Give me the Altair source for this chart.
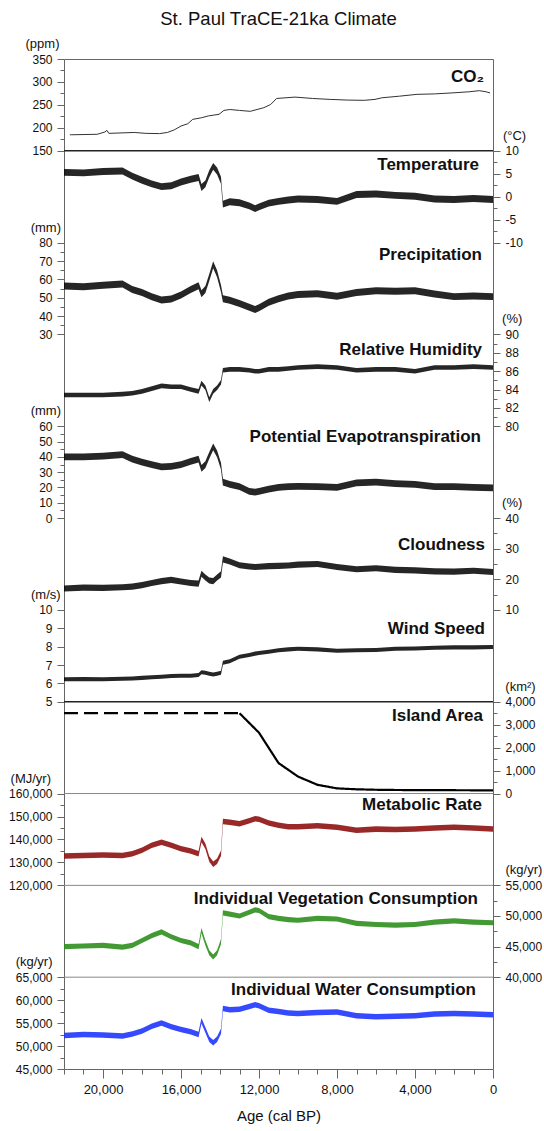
import altair as alt
import pandas as pd

# ---------------------------------------------------------------- data
# Sample ages (cal BP) shared by the TraCE-21ka climate / energetics series
AGE = [22000, 21000, 20000, 19000, 18500, 18000, 17500, 17000, 16500, 16000,
       15500, 15100, 14950, 14750, 14550, 14350, 14150, 13950, 13850, 13500,
       13000, 12500, 12200, 12000, 11500, 11000, 10500, 10000, 9000, 8000,
       7000, 6000, 5000, 4000, 3000, 2000, 1000, 0]

TEMPERATURE = [5.3, 5.2, 5.5, 5.6, 4.5, 3.6, 2.8, 2.2, 2.4, 3.2,
               3.8, 4.2, 2.0, 2.8, 5.0, 6.6, 5.6, 3.6, -1.6, -1.1,
               -1.3, -2.0, -2.6, -2.2, -1.4, -1.0, -0.7, -0.5, -0.6, -1.0,
               0.5, 0.6, 0.3, 0.1, -0.5, -0.6, -0.4, -0.6]
PRECIPITATION = [56.4, 56.0, 56.8, 57.5, 54.5, 52.8, 50.5, 48.8, 49.3, 51.5,
                 54.5, 56.5, 52.2, 54.5, 61.0, 68.0, 63.0, 55.0, 49.5, 48.6,
                 46.8, 44.8, 43.6, 44.5, 47.5, 49.5, 51.0, 51.8, 52.2, 50.8,
                 52.8, 53.8, 53.5, 53.8, 52.0, 50.6, 51.0, 50.6]
REL_HUMIDITY = [83.4, 83.4, 83.4, 83.5, 83.6, 83.8, 84.1, 84.4, 84.3, 84.3,
                84.0, 83.8, 84.7, 84.2, 82.9, 83.8, 84.2, 84.8, 86.1, 86.2,
                86.2, 86.1, 86.0, 86.0, 86.2, 86.2, 86.3, 86.4, 86.5, 86.4,
                86.1, 86.2, 86.2, 86.0, 86.4, 86.4, 86.5, 86.4]
POT_EVAPOTRANSPIRATION = [40.0, 40.0, 40.5, 41.5, 38.5, 36.5, 35.0, 33.5, 33.8, 35.0,
                          37.0, 38.5, 32.5, 35.0, 41.0, 46.5, 42.0, 34.0, 23.5, 22.0,
                          20.5, 17.5, 17.0, 17.5, 19.0, 20.0, 20.5, 20.8, 20.5, 20.0,
                          23.0, 23.5, 22.5, 22.0, 20.5, 20.5, 20.0, 19.8]
CLOUDNESS = [17.0, 17.3, 17.2, 17.4, 17.6, 18.1, 18.8, 19.4, 19.8, 19.3,
             18.8, 18.6, 21.8, 20.6, 19.6, 19.4, 20.6, 21.6, 26.5, 25.8,
             24.6, 24.2, 24.0, 24.1, 24.3, 24.4, 24.5, 24.8, 25.0, 24.0,
             23.3, 23.6, 23.1, 22.9, 22.6, 22.5, 22.8, 22.4]
WIND_SPEED = [6.22, 6.23, 6.22, 6.25, 6.27, 6.30, 6.33, 6.36, 6.40, 6.42,
              6.42, 6.45, 6.60, 6.58, 6.52, 6.48, 6.52, 6.58, 7.12, 7.20,
              7.45, 7.55, 7.62, 7.65, 7.72, 7.80, 7.85, 7.88, 7.85, 7.78,
              7.80, 7.82, 7.88, 7.90, 7.94, 7.96, 7.96, 7.98]
METABOLIC_RATE = [132800, 133000, 133200, 133000, 133800, 135300, 137500, 138800, 137500, 136000,
                  135000, 133800, 140000, 137000, 131500, 129200, 130500, 134000, 147800, 147500,
                  146800, 148200, 149000, 148800, 147200, 146200, 145500, 145500, 146000, 145300,
                  144000, 144500, 144300, 144600, 145000, 145300, 145000, 144600]
VEGETATION = [45000, 45100, 45200, 44900, 45200, 46000, 46800, 47400, 46600, 46000,
              45600, 45000, 47600, 45600, 44000, 43300, 44000, 45800, 50500, 50300,
              50000, 50600, 51000, 50900, 49900, 49600, 49400, 49300, 49600, 49500,
              48800, 48600, 48500, 48600, 49000, 49200, 49000, 48900]
WATER = [52300, 52500, 52400, 52200, 52600, 53300, 54300, 55000, 54200, 53600,
         53100, 52500, 55500, 53500, 51500, 50700, 51500, 53200, 58200, 57900,
         58000, 58600, 59000, 58800, 57800, 57500, 57200, 57100, 57300, 57400,
         56600, 56400, 56500, 56600, 57000, 57100, 57000, 56800]

# half-width of the decadal variability band around each series
SPREAD = {"temp": 0.75, "prec": 1.9, "rh": 0.25, "pet": 2.2, "cloud": 1.0,
          "wind": 0.11, "met": 1200, "veg": 420, "water": 600}

CO2_AGE = [21700, 21600, 20300, 19900, 19800, 19700, 18400, 17800, 17100, 16700,
           16350, 16000, 15650, 15400, 14950, 14600, 14050, 13800, 13500, 13000,
           12450, 12100, 11750, 11400, 11100, 10150, 9250, 8350, 7450, 6600,
           6050, 5700, 4800, 3900, 3000, 2150, 1250, 700, 350, 150]
CO2_PPM = [185, 185, 186, 191, 194.5, 188, 190, 188, 187.5, 190,
           195.5, 204, 209, 218.5, 222, 226, 229.5, 238, 240, 238,
           236, 240, 244, 251, 264, 267, 264, 262, 260.5, 260,
           262, 265.5, 269, 273, 274, 276, 278.5, 281, 278.5, 276]

ISLAND_AGE = [22000, 13000, 13000, 12000, 11000, 10000, 9000, 8000, 7000, 6000,
              5000, 4000, 3000, 2000, 1000, 0]
ISLAND_AREA = [3500, 3500, 3500, 2650, 1330, 740, 380, 225, 185, 165,
               155, 150, 148, 145, 142, 140]
ISLAND_KIND = ["assumed", "assumed"] + ["modelled"] * 14

X_TICKS = list(range(0, 22001, 1000))

# ---------------------------------------------------------------- layout / style
FONT = "Liberation Sans"
W, H = 429, 1010
N_PANELS = 11
SLOT = H / N_PANELS

climate = pd.DataFrame({"age": AGE})
series = {"temp": TEMPERATURE, "prec": PRECIPITATION, "rh": REL_HUMIDITY,
          "pet": POT_EVAPOTRANSPIRATION, "cloud": CLOUDNESS, "wind": WIND_SPEED,
          "met": METABOLIC_RATE, "veg": VEGETATION, "water": WATER}
for key, vals in series.items():
    climate[key + "_lo"] = [v - SPREAD[key] for v in vals]
    climate[key + "_hi"] = [v + SPREAD[key] for v in vals]

co2 = pd.DataFrame({"age": CO2_AGE, "co2": CO2_PPM})
island = pd.DataFrame({"age": ISLAND_AGE, "area": ISLAND_AREA, "kind": ISLAND_KIND})

X = alt.X(
    "age:Q",
    scale=alt.Scale(domain=[0, 22000], reverse=True, nice=False, zero=False),
    axis=alt.Axis(
        values=X_TICKS, format=",d",
        labelExpr="datum.value % 4000 === 0 ? datum.label : ''",
        tickSize={"condition": {"test": "datum.value % 4000 !== 0", "value": 5}, "value": 9},
        tickColor="#666", domain=False, grid=False,
        labelFont=FONT, labelFontSize=13, labelColor="#111", labelPadding=5,
        labelOverlap=False, labelFlush=False,
        title="Age (cal BP)", titleFont=FONT, titleFontSize=15, titleFontWeight="normal",
        titleColor="#111", titleY=46, titleBaseline="middle",
    ),
)


def ticks(lo, hi, step):
    n = int(round((hi - lo) / step))
    return [round(lo + i * step, 6) for i in range(n + 1)]


def y_enc(field, idx, dom, minor, major, orient, fmt, unit, title_x):
    top = idx * SLOT
    scale = alt.Scale(domain=dom, range=[top + SLOT, top], nice=False, zero=False)
    ax = alt.Axis(
        orient=orient, values=ticks(dom[0], dom[1], minor), format=fmt,
        labelExpr=(f"abs(datum.value % {major}) < 1e-6 ? "
                   "replace(datum.label, '\u2212', '-') : ''"),
        tickSize={"condition": {"test": f"abs(datum.value % {major}) > 1e-6", "value": 4},
                  "value": 7},
        tickColor="#666", domain=False, grid=False,
        labelFont=FONT, labelFontSize=12, labelColor="#111", labelPadding=5,
        labelOverlap=False, labelFlush=False,
        title=unit, titleAngle=0, titleX=title_x, titleY=top - 15.5,
        titleAlign="center", titleBaseline="middle", titleFont=FONT,
        titleFontSize=13, titleFontWeight="normal", titleColor="#111",
    )
    return alt.Y(field, scale=scale, axis=ax, stack=False)


# key, label, unit, domain, minor step, major step, axis side, format,
# colour, title x-offset, label offset below slot top, label right edge
PANELS = [
    ("temp", "Temperature", "(°C)", [-10, 10], 2.5, 5, "right", "d", "#000", 21, 13.9, 415),
    ("prec", "Precipitation", "(mm)", [30, 80], 5, 10, "left", "d", "#000", -18.7, 12.4, 418),
    ("rh", "Relative Humidity", "(%)", [80, 90], 1, 2, "right", "d", "#000", 18.7, 15.2, 418),
    ("pet", "Potential Evapotranspiration", "(mm)", [0, 60], 5, 10, "left", "d", "#000", -18.7, 10.7, 417),
    ("cloud", "Cloudness", "(%)", [10, 40], 5, 10, "right", "d", "#000", 18.7, 26.5, 421),
    ("wind", "Wind Speed", "(m/s)", [5, 10], 0.5, 1, "left", "d", "#000", -18.7, 18.8, 421),
    ("met", "Metabolic Rate", "(MJ/yr)", [120000, 160000], 5000, 10000, "left", ",d", "#8e1111", -33.7, 11.2, 418),
    ("veg", "Individual Vegetation Consumption", "(kg/yr)", [40000, 55000], 2500, 5000, "right", ",d", "#2f8f1f", 30.4, 13.2, 414),
    ("water", "Individual Water Consumption", "(kg/yr)", [45000, 65000], 2500, 5000, "left", ",d", "#1f35ff", -30.4, 13.2, 412),
]
SLOT_INDEX = {"temp": 1, "prec": 2, "rh": 3, "pet": 4, "cloud": 5, "wind": 6,
              "met": 8, "veg": 9, "water": 10}

layers = []

# CO2 (slot 0)
layers.append(
    alt.Chart(co2).mark_line(color="#333", strokeWidth=1).encode(
        x=X,
        y=y_enc("co2:Q", 0, [150, 350], 25, 50, "left", "d", "(ppm)", -22),
    )
)

# variability bands
for key, label, unit, dom, minor, major, orient, fmt, color, tx, _, _ in PANELS:
    idx = SLOT_INDEX[key]
    opacity = 0.85 if color == "#000" else 0.9
    layers.append(
        alt.Chart(climate).mark_area(color=color, opacity=opacity).encode(
            x=X,
            y=y_enc(f"{key}_lo:Q", idx, dom, minor, major, orient, fmt, unit, tx),
            y2=f"{key}_hi:Q",
        )
    )

# island area (slot 7): dashed where held constant
layers.append(
    alt.Chart(island).mark_line(color="#000", strokeWidth=2.2, strokeCap="butt").encode(
        x=X,
        y=y_enc("area:Q", 7, [0, 4000], 500, 1000, "right", ",d", "(km²)", 27),
        strokeDash=alt.StrokeDash(
            "kind:N",
            scale=alt.Scale(domain=["assumed", "modelled"], range=[[14, 6], [1, 0]]),
            legend=None,
        ),
    )
)

# panel separators
for idx, color, width in [(1, "#222", 1.5), (7, "#222", 1.5), (8, "#888", 1),
                          (9, "#888", 1), (10, "#888", 1)]:
    layers.append(
        alt.Chart(pd.DataFrame({"k": [0]})).mark_rule(color=color, strokeWidth=width).encode(
            x=alt.value(0), x2=alt.value(W), y=alt.value(idx * SLOT)
        )
    )

# panel names
names = [("CO₂", 0, 17.7, 420)] + [(p[1], SLOT_INDEX[p[0]], p[10], p[11]) for p in PANELS] \
    + [("Island Area", 7, 14.7, 419)]
for text, idx, dy, right in names:
    layers.append(
        alt.Chart(pd.DataFrame({"t": [text]})).mark_text(
            align="right", baseline="middle", font=FONT, fontSize=17,
            fontWeight="bold", color="#111",
        ).encode(x=alt.value(right), y=alt.value(idx * SLOT + dy), text="t:N")
    )

chart = (
    alt.layer(*layers)
    .resolve_scale(y="independent")
    .properties(
        width=W, height=H,
        title=alt.TitleParams("St. Paul TraCE-21ka Climate", font=FONT, fontSize=18.5,
                              fontWeight="normal", anchor="middle", offset=9, color="#111"),
        autosize=alt.AutoSizeParams(type="none"),
        padding={"left": 64, "top": 59, "right": 51, "bottom": 62},
    )
    .configure_view(stroke="#666", strokeWidth=1)
)

chart.save("out.html", embed_options={"renderer": "svg", "actions": False})
